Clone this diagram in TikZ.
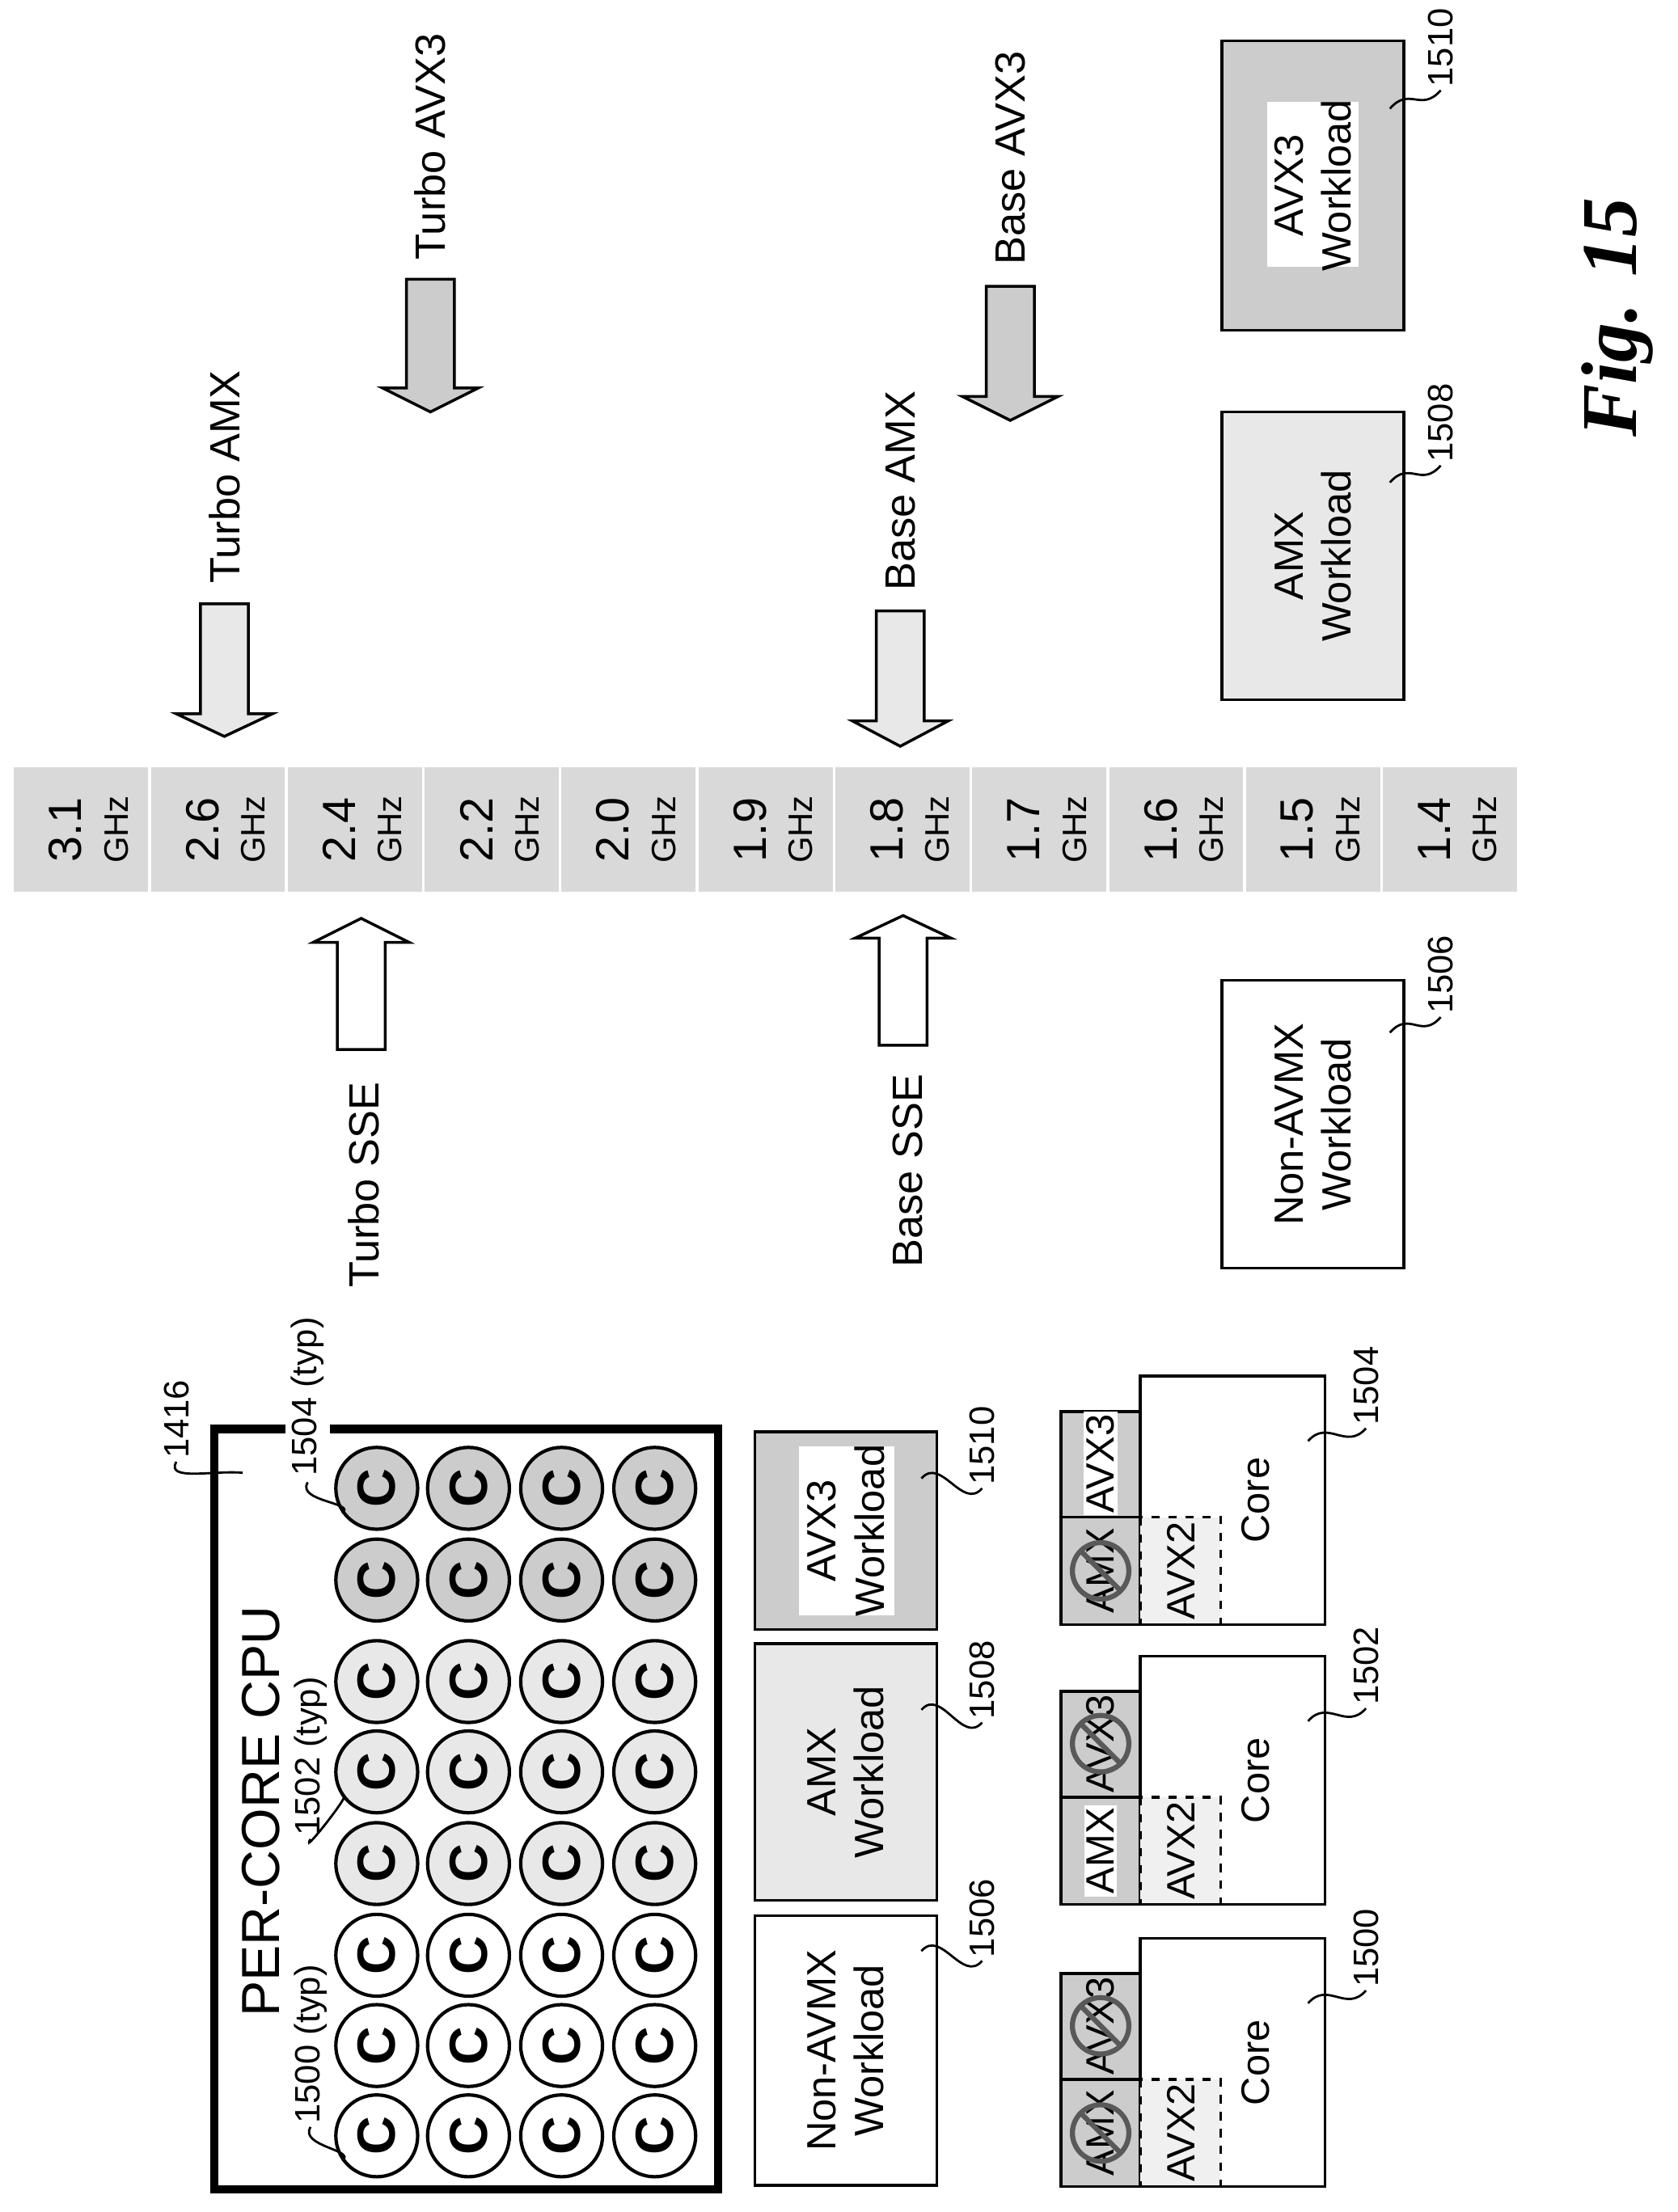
\documentclass[tikz,border=0pt]{standalone}
\usepackage{fontspec}
\setmainfont{Liberation Sans}
\newfontfamily\figfont{Liberation Serif}
\begin{document}
\begin{tikzpicture}[x=0.5pt,y=-0.5pt,
  txt/.style={rotate=90,inner sep=1pt,font=\fontsize{15}{17}\selectfont},
  wl/.style={rotate=90,inner sep=1pt,align=center,font=\fontsize{14.5}{17}\selectfont},
  ref/.style={rotate=90,anchor=west,inner sep=1pt,font=\fontsize{12.5}{14}\selectfont},
  sq/.style={rotate=90,inner sep=1pt,font=\fontsize{14}{15}\selectfont},
  squig/.style={line width=0.8pt},
  lt/.style={fill=gray!18},
  dk/.style={fill=gray!40},
  box/.style={draw,line width=1pt},
  core/.style={circle,draw,line width=1.2pt,minimum size=29pt,inner sep=0pt,font=\fontsize{19}{19}\bfseries\selectfont},
  nosign/.style={draw=gray!70!black,line width=1.8pt}]
\useasboundingbox (0,0) rectangle (1189,1568);
% frequency strip
\foreach \f [count=\k from 0] in {3.1,2.6,2.4,2.2,2.0,1.9,1.8,1.7,1.6,1.5,1.4}{
  \pgfmathsetmacro\lx{10+97*\k}
  \pgfmathsetmacro\cx{\lx+47.5}
  \fill[gray!30] (\lx,544) rectangle (\lx+95,632);
  \node[rotate=90,inner sep=0pt,font=\fontsize{16.5}{17}\selectfont] (f\k) at (\cx-11,588) {\f};
  \node[rotate=90,inner sep=0pt,font=\fontsize{12}{13}\selectfont] (g\k) at (\cx+25,588) {GHz};
}
% down arrows
\draw[box,lt] (142,428) -- (176,428) -- (176,506) -- (193,506) -- (159,522) -- (125,506) -- (142,506) -- cycle;
\draw[box,dk] (288,198) -- (322,198) -- (322,275) -- (339,275) -- (305,292) -- (271,275) -- (288,275) -- cycle;
\draw[box,lt] (621,433) -- (655,433) -- (655,511) -- (672,511) -- (638,529) -- (604,511) -- (621,511) -- cycle;
\draw[box,dk] (699,203) -- (733,203) -- (733,281) -- (750,281) -- (716,298) -- (682,281) -- (699,281) -- cycle;
% up arrows
\draw[box,fill=white] (239,744) -- (273,744) -- (273,668) -- (290,668) -- (256,651) -- (222,668) -- (239,668) -- cycle;
\draw[box,fill=white] (623,741) -- (657,741) -- (657,665) -- (674,665) -- (640,649) -- (606,665) -- (623,665) -- cycle;
\node[txt] (tamx) at (159,338) {Turbo AMX};
\node[txt] (tavx) at (305,104) {Turbo AVX3};
\node[txt] (bamx) at (638,348) {Base AMX};
\node[txt] (bavx) at (716,112) {Base AVX3};
\node[txt] (tsse) at (258,840) {Turbo SSE};
\node[txt] (bsse) at (643,830) {Base SSE};
% right workload boxes
\draw[box,dk] (866,29) rectangle (995,234);
\fill[white] (898,72) rectangle (963,189);
\node[wl] (w1510) at (930.5,131.5) {AVX3\\Workload};
\draw[box,lt] (866,292) rectangle (995,496);
\node[wl] (w1508) at (930.5,394) {AMX\\Workload};
\draw[box,fill=white] (866,695) rectangle (995,899);
\node[wl] (w1506) at (930.5,797) {Non-AVMX\\Workload};
\node[ref] (r1510a) at (1021,64) {1510};
\node[ref] (r1508a) at (1021,330) {1508};
\node[ref] (r1506a) at (1021,721) {1506};
\coordinate (s1510a) at (985,77);
\coordinate (s1508a) at (985,342);
\coordinate (s1506a) at (985,732);
\foreach \n in {1510a,1508a,1506a}
  \draw[squig] (s\n) .. controls +(14,-16) and +(-14,16) .. (r\n.west);
% Fig
\node[rotate=90,inner sep=0pt,font=\figfont\fontsize{28}{30}\bfseries\itshape\selectfont] (fig) at (1146,225) {Fig. 15};
% CPU box
\draw[line width=3pt] (152,1013) rectangle (509,1552);
\node[rotate=90,inner sep=0pt,font=\fontsize{19}{20}\selectfont] (title) at (185,1284) {PER-CORE CPU};
\foreach \y/\st in {1055/dk,1120/dk,1192/lt,1256/lt,1321/lt,1386/,1450/,1514/}{
  \foreach \x in {267,332,398,464}{
    \node[core,\st,rotate=90] (c\x-\y) at (\x,\y) {C};
  }
}
\node[ref,anchor=center] (t1500) at (220,1449) {1500 (typ)};
\node[ref,anchor=center] (t1502) at (220,1245) {1502 (typ)};
\node[ref,anchor=center,fill=white,inner sep=2pt] (t1504) at (218,990) {1504 (typ)};
\node[ref,anchor=center] (t1416) at (125,1006) {1416};
\draw[squig] (t1500.west) .. controls +(-8,14) and +(-14,10) .. (c267-1514);
\draw[squig] (t1502.west) .. controls +(-8,14) and +(-14,10) .. (c267-1256);
\draw[squig] (t1504.west) .. controls +(-8,14) and +(-14,10) .. (c267-1055);
\draw[squig] (t1416.west) .. controls +(-8,14) and +(-20,-2) .. (172,1044);
% bottom workloads
\draw[box,dk] (535,1015) rectangle (664,1155);
\fill[white] (566,1025) rectangle (634,1145);
\node[wl] (w1510b) at (599.5,1085) {AVX3\\Workload};
\draw[box,lt] (535,1165) rectangle (664,1347);
\node[wl] (w1508b) at (599.5,1256) {AMX\\Workload};
\draw[box,fill=white] (535,1358) rectangle (664,1549);
\node[wl] (w1506b) at (599.5,1453.5) {Non-AVMX\\Workload};
\node[ref] (r1510b) at (696,1055) {1510};
\node[ref] (r1508b) at (696,1221) {1508};
\node[ref] (r1506b) at (696,1390) {1506};
\coordinate (s1510b) at (653,1048);
\coordinate (s1508b) at (653,1212);
\coordinate (s1506b) at (653,1383);
\foreach \n in {1510b,1508b,1506b}
  \draw[squig] (s\n) .. controls +(14,-16) and +(-14,16) .. (r\n.west);
% cores
\foreach \T/\id/\ca/\cb in {975.5/1504/0/1,1174/1502/1/0,1374/1500/1/1}{
  \draw[box,fill=white] (808,\T) rectangle (939,\T+176);
  \draw[box,dk] (752,\T+25) rectangle (808,\T+100);
  \draw[box,dk] (752,\T+100) rectangle (808,\T+176);
  \draw[line width=1pt,dashed,fill=gray!12] (808,\T+100) rectangle (865,\T+176);
  \draw[box] (752,\T+176) -- (939,\T+176);
  \node[sq] (core\id) at (890,\T+88) {Core};
  \node[sq] (avxii\id) at (837,\T+138) {AVX2};
  \ifnum\ca=1
    \node[sq] (avxiii\id) at (780,\T+62) {AVX3};
    \draw[nosign] (780,\T+62) circle (20);
    \draw[nosign] (766,\T+48) -- (794,\T+76);
  \else
    \node[sq,fill=white] (avxiii\id) at (780,\T+62) {AVX3};
  \fi
  \ifnum\cb=1
    \node[sq] (amx\id) at (780,\T+138) {AMX};
    \draw[nosign] (780,\T+138) circle (20);
    \draw[nosign] (766,\T+124) -- (794,\T+152);
  \else
    \node[sq,fill=white] (amx\id) at (780,\T+138) {AMX};
  \fi
  \node[ref] (r\id) at (968,\T+37) {\id};
  \draw[squig] (927,\T+46) .. controls +(14,-16) and +(-14,16) .. (r\id.west);
}
\end{tikzpicture}
\end{document}
